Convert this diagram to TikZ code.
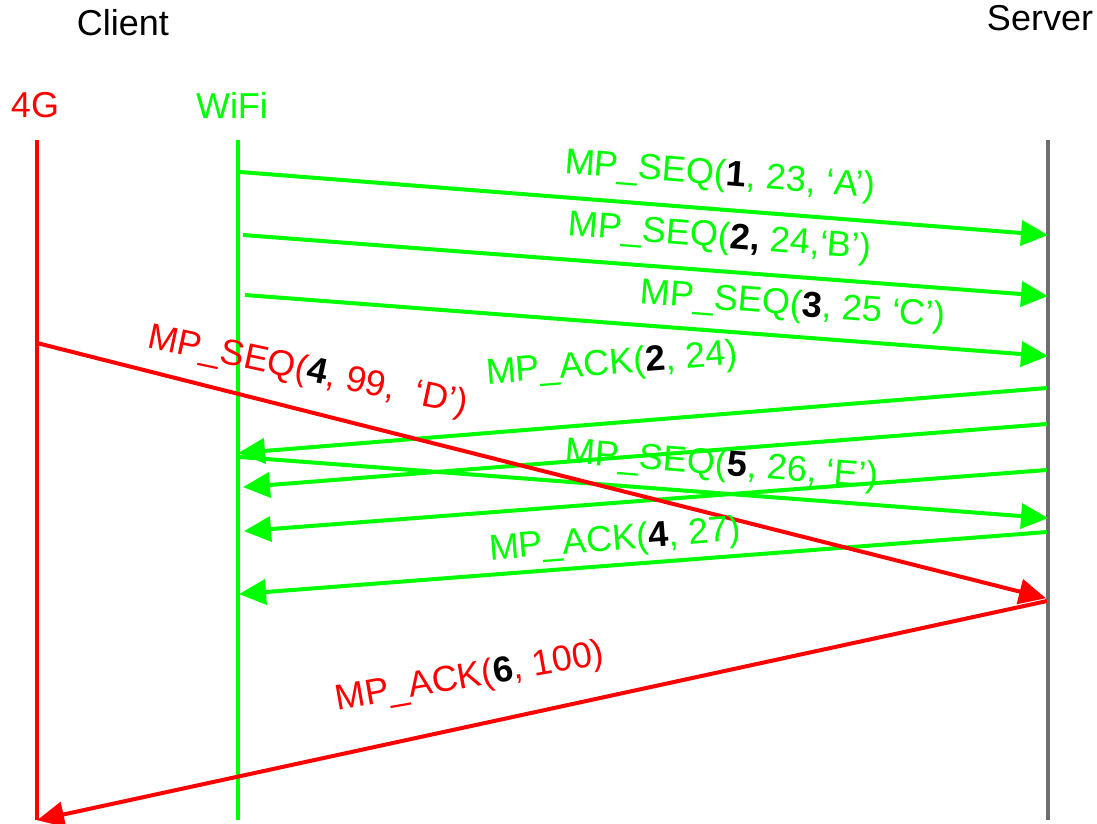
\documentclass[tikz,border=0pt]{standalone}
\usepackage{fontspec}
\setmainfont{Liberation Sans}
\usetikzlibrary{arrows.meta}
\definecolor{gn}{RGB}{0,255,0}
\definecolor{rd}{RGB}{255,0,0}
\definecolor{gy}{RGB}{110,110,110}
\newcommand{\bk}[1]{\textcolor{black}{\textbf{#1}}}
\begin{document}
\begin{tikzpicture}[x=1pt,y=-1pt,
  lbl/.style={font=\fontsize{36}{40}\selectfont, inner sep=0pt},
  life/.style={line width=3.5pt},
  msg/.style={line width=4pt, -{Triangle[length=27pt,width=25pt]}, shorten >=-1pt},
  gmsg/.style={msg, draw=gn, color=gn},
  rmsg/.style={msg, draw=rd, color=rd},
  glbl/.style={lbl, text=gn},
  rlbl/.style={lbl, text=rd}]
\useasboundingbox (0,0) rectangle (1097,823);
% headers
\node[lbl] (client) at (123,23) {Client};
\node[lbl] (server) at (1040,18) {Server};
\node[rlbl] (g4) at (35,105) {4G};
\node[glbl] (wifi) at (232,105) {WiFi};
% lifeline ends
\coordinate (rT) at (37,140); \coordinate (rB) at (37,820);
\coordinate (wT) at (238,140); \coordinate (wB) at (238,820);
\coordinate (sT) at (1048,140); \coordinate (sB) at (1048,820);
\draw[life, rd] (rT) -- (rB);
\draw[life, gn] (wT) -- (wB);
\draw[life, gy] (sT) -- (sB);
% message endpoints
\coordinate (a1s) at (240,172); \coordinate (a1e) at (1047,235);
\coordinate (a2s) at (243,235); \coordinate (a2e) at (1047,296);
\coordinate (a3s) at (245,295); \coordinate (a3e) at (1047,356);
\coordinate (a4s) at (1047,388); \coordinate (a4e) at (239,453);
\coordinate (a5s) at (1047,424); \coordinate (a5e) at (244,487);
\coordinate (a6s) at (240,457); \coordinate (a6e) at (1047,518);
\coordinate (a7s) at (1047,470); \coordinate (a7e) at (245,531);
\coordinate (a8s) at (1047,532); \coordinate (a8e) at (240,594);
\coordinate (r1s) at (37,343); \coordinate (r1e) at (1045,598);
\coordinate (r2s) at (1047,601); \coordinate (r2e) at (38,820);
% green messages
\draw[gmsg] (a1s) -- (a1e);
\draw[gmsg] (a2s) -- (a2e);
\draw[gmsg] (a3s) -- (a3e);
\draw[gmsg] (a4s) -- (a4e);
\draw[gmsg] (a5s) -- (a5e);
\draw[gmsg] (a6s) -- (a6e);
\draw[gmsg] (a7s) -- (a7e);
\draw[gmsg] (a8s) -- (a8e);
% red messages
\draw[rmsg] (r1s) -- (r1e);
\draw[rmsg] (r2s) -- (r2e);
% labels
\node[glbl, rotate=-4.5] (l1) at (720,176) {MP\_SEQ(\bk{1}, 23, ‘A’)};
\node[glbl, rotate=-4.5] (l2) at (720,238) {MP\_SEQ(\bk{2,} 24,‘B’)};
\node[glbl, rotate=-4.5] (l3) at (793,306) {MP\_SEQ(\bk{3}, 25 ‘C’)};
\node[glbl, rotate=4.5] (l4) at (612,365) {MP\_ACK(\bk{2}, 24)};
\node[glbl, rotate=-4.5] (l5) at (722,466) {MP\_SEQ(\bk{5}, 26, ‘E’)};
\node[glbl, rotate=4.5] (l6) at (615,541) {MP\_ACK(\bk{4}, 27)};
\node[rlbl, rotate=-12] (l7) at (308,372) {MP\_SEQ(\bk{4}, 99, \ ‘D’)};
\node[rlbl, rotate=10] (l8) at (470,678) {MP\_ACK(\bk{6}, 100)};
\end{tikzpicture}
\end{document}
